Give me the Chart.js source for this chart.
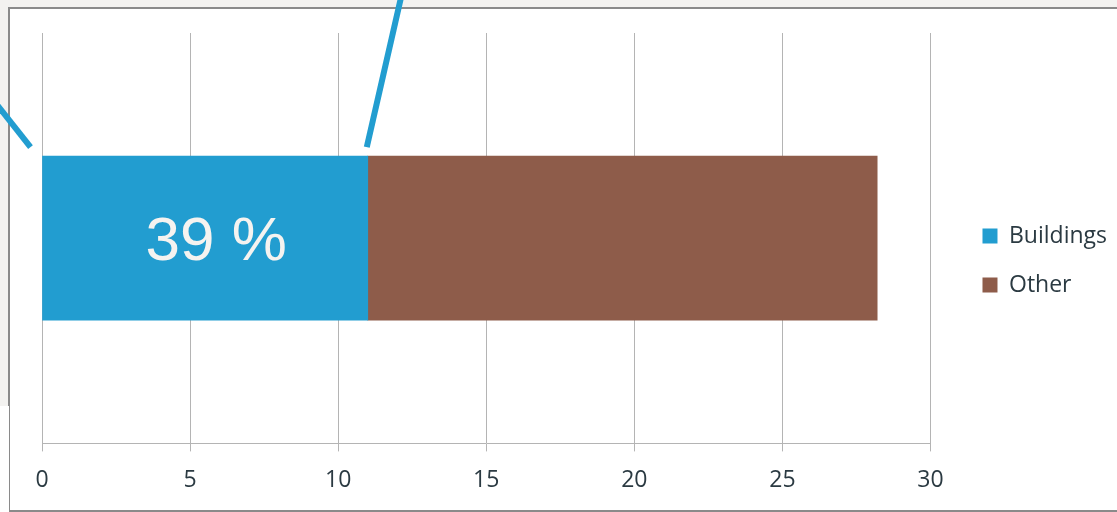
<!DOCTYPE html>
<html>
<head>
<meta charset="utf-8">
<script src="https://cdn.jsdelivr.net/npm/chart.js@4.4.0/dist/chart.umd.min.js"></script>
<style>
  body { margin: 0; background: #f3f2f0; width: 1117px; height: 512px; overflow: hidden; position: relative; }
  #frame { position: absolute; left: 8px; top: 7px; width: 1130px; height: 501px; border: 2px solid #8a8a8a; background: #fff; }
  #under { position: absolute; left: 0; top: 406px; width: 9px; height: 110px; background: #fff; }
  #wrap { position: absolute; left: 0; top: 0; width: 1117px; height: 512px; }
</style>
</head>
<body>
<div id="frame"></div>
<div id="under"></div>
<div id="wrap"><canvas id="chart"></canvas></div>
<script>
var categories = [''];
var seriesNames = ['Buildings', 'Other'];
var buildings = [11];
var other = [17.2];
var colors = ['#229dd0', '#8e5c4a'];
var xTicks = [0, 5, 10, 15, 20, 25, 30];

var textColor = '#2b3a42';
var gridColor = '#b4b4b4';

// percent label inside the first segment + the two callout leader lines
var callouts = {
  id: 'callouts',
  afterDatasetsDraw: function(c) {
    var ctx = c.ctx;
    var bar = c.getDatasetMeta(0).data[0];
    var top = bar.y - bar.height / 2;
    var total = buildings[0] + other[0];
    var pct = Math.round(buildings[0] / total * 100);

    ctx.save();
    ctx.fillStyle = '#f5f3f0';
    ctx.font = '62px "Liberation Sans", Arial, sans-serif';
    ctx.textAlign = 'center';
    ctx.textBaseline = 'alphabetic';
    ctx.fillText(pct + ' %', (bar.base + bar.x) / 2 + 11, bar.y + 22);

    ctx.strokeStyle = colors[0];
    ctx.lineWidth = 6;
    ctx.lineCap = 'butt';
    ctx.beginPath();
    ctx.moveTo(bar.base - 12, top - 9);
    ctx.lineTo(bar.base - 12 - 52, top - 9 - 66);
    ctx.stroke();
    ctx.beginPath();
    ctx.moveTo(bar.x - 1, top - 9);
    ctx.lineTo(bar.x - 1 + 40, top - 9 - 175);
    ctx.stroke();
    ctx.restore();
  }
};

function spacer(size) {
  return {
    display: true,
    grid: { display: false, drawTicks: false },
    border: { display: false },
    ticks: { display: false },
    afterFit: function(s) {
      if (s.isHorizontal()) s.height = size; else s.width = size;
    }
  };
}

var gapTop = spacer(21);
gapTop.position = 'top';
gapTop.type = 'linear';
var gapRight = spacer(26);
gapRight.position = 'right';
gapRight.type = 'linear';

chart = new Chart(document.getElementById('chart'), {
  type: 'bar',
  data: {
    labels: categories,
    datasets: [
      { label: seriesNames[0], data: buildings, backgroundColor: colors[0], barThickness: 164 },
      { label: seriesNames[1], data: other, backgroundColor: colors[1], barThickness: 164 }
    ]
  },
  options: {
    indexAxis: 'y',
    responsive: true,
    maintainAspectRatio: false,
    animation: false,
    layout: { padding: { left: 42, top: 12, right: 0, bottom: 3 } },
    plugins: {
      tooltip: { enabled: false },
      legend: {
        position: 'right',
        labels: {
          boxWidth: 15,
          boxHeight: 15,
          padding: 26,
          color: textColor,
          font: { family: '"Open Sans", sans-serif', size: 23 }
        }
      }
    },
    scales: {
      x: {
        stacked: true,
        min: 0,
        max: 30,
        afterBuildTicks: function(axis) { axis.ticks = xTicks.map(function(v) { return { value: v }; }); },
        grid: { color: gridColor, lineWidth: 1, tickLength: 8, drawTicks: true },
        border: { color: gridColor, width: 1 },
        ticks: {
          color: textColor,
          padding: 15,
          maxRotation: 0,
          font: { family: '"Open Sans", sans-serif', size: 23 }
        }
      },
      y: {
        stacked: true,
        display: false
      },
      xTop: gapTop,
      yRight: gapRight
    }
  },
  plugins: [callouts]
});
</script>
</body>
</html>
